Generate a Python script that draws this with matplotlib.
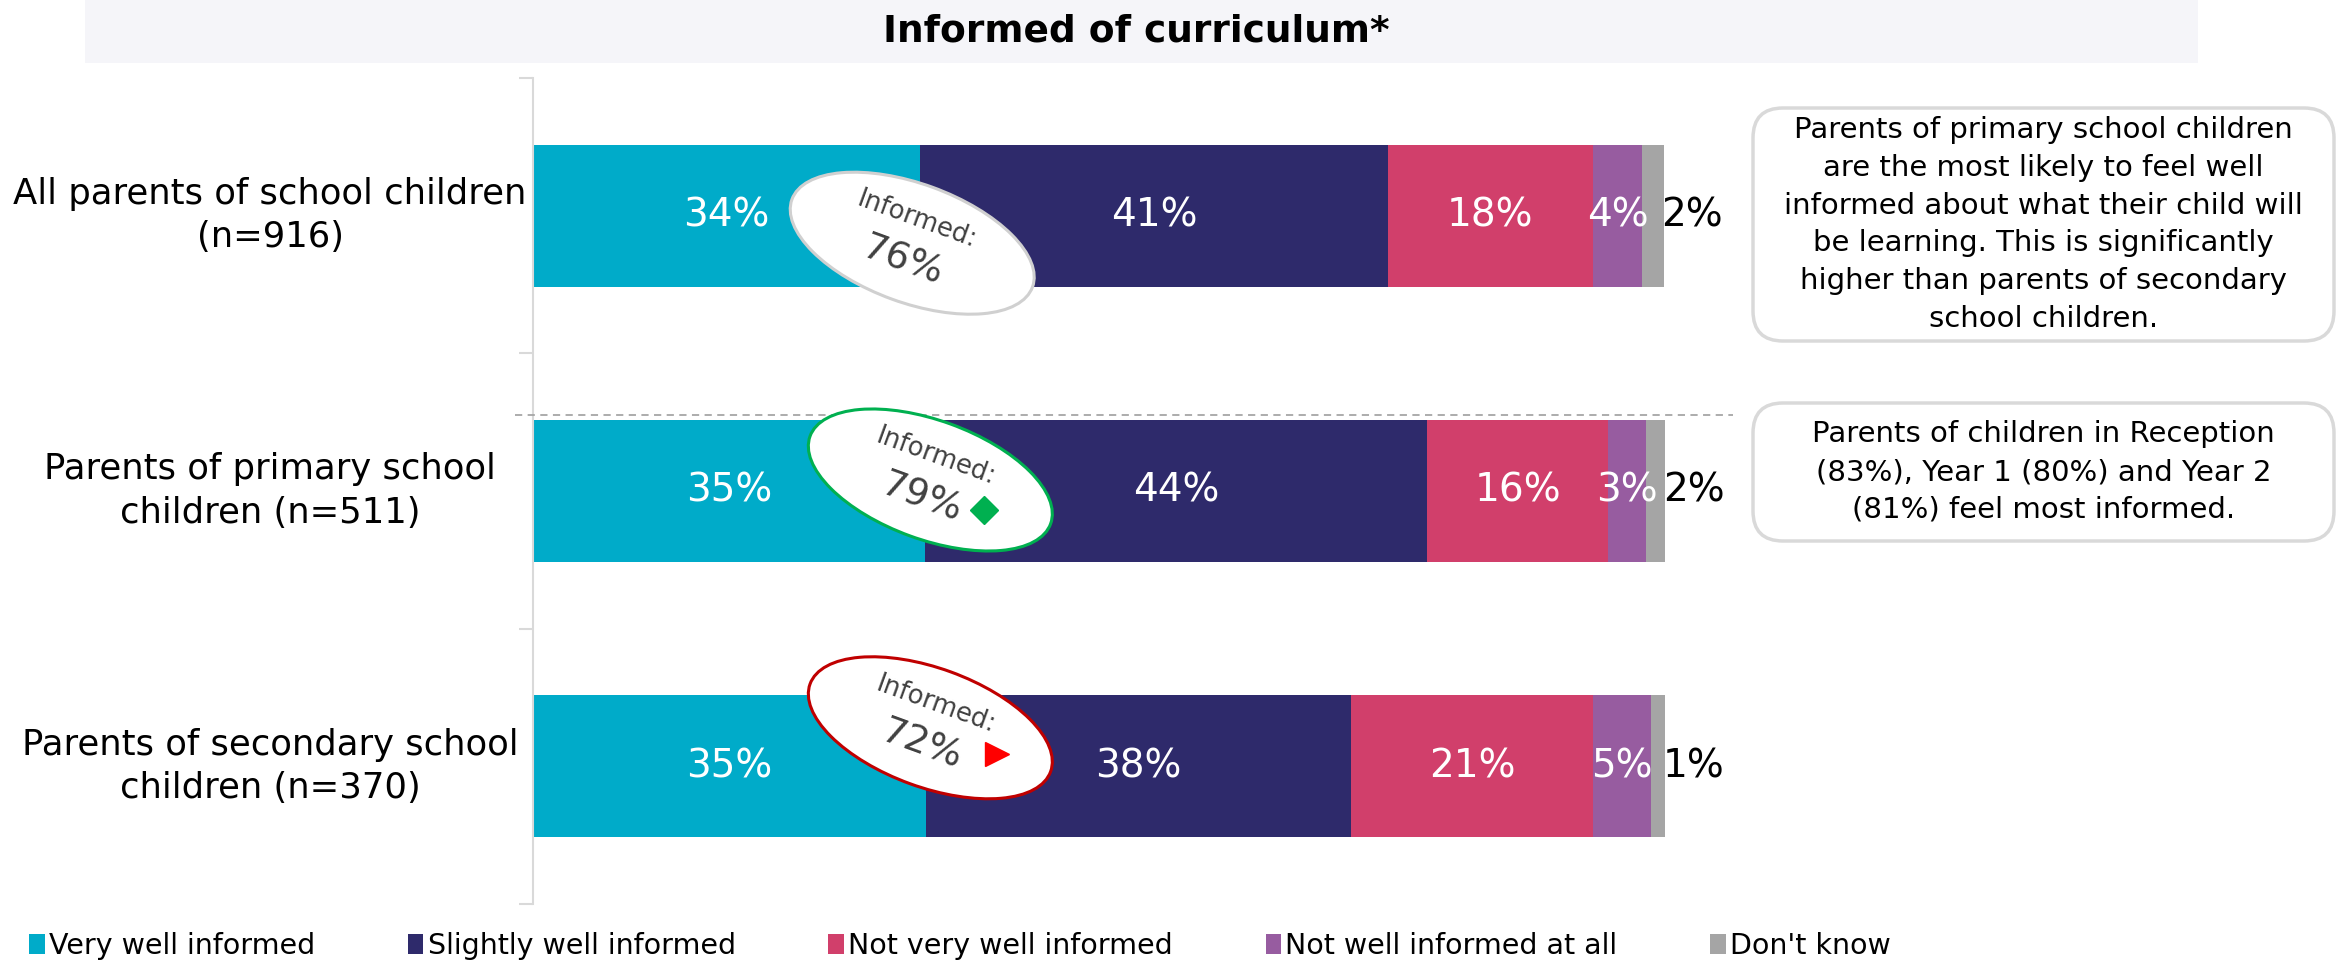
import matplotlib
matplotlib.use("Agg")
import matplotlib.pyplot as plt
from matplotlib.patches import Ellipse, FancyBboxPatch, Rectangle
from matplotlib.transforms import ScaledTranslation, blended_transform_factory

groups = ["All parents of school children\n(n=916)",
          "Parents of primary school\nchildren (n=511)",
          "Parents of secondary school\nchildren (n=370)"]
very_well = [34.2, 34.6, 34.7]
slightly = [41.3, 44.4, 37.6]
not_very = [18.1, 16.0, 21.3]
not_at_all = [4.4, 3.3, 5.2]
dont_know = [1.9, 1.8, 1.2]
informed = [76, 79, 72]

series = ["Very well informed", "Slightly well informed", "Not very well informed",
          "Not well informed at all", "Don't know"]
colors = ["#00abc9", "#2e2a6b", "#d13f6b", "#975ca0", "#a5a5a5"]

title = "Informed of curriculum*"
note1 = ("Parents of primary school children\nare the most likely to feel well\n"
         "informed about what their child will\nbe learning. This is significantly\n"
         "higher than parents of secondary\nschool children.")
note2 = "Parents of children in Reception\n(83%), Year 1 (80%) and Year 2\n(81%) feel most informed."

# oval call-outs: x centre (data), y offset from the bar, outline colour, marker
oval_x = [33.5, 35.1, 35.1]
oval_dy = [0.10, -0.04, -0.14]
oval_edge = ["#d0d0d0", "#00b050", "#c00000"]
oval_mark = [None, ("D", "#00b050", 0.54, -0.30, 14), (">", "#ff0000", 0.67, -0.26, 17)]

W, H = 2343, 966
fig = plt.figure(figsize=(W / 100, H / 100), dpi=100)
ax = fig.add_axes([533 / W, 1 - 904 / H, 1132 / W, 826 / H])
ax.set_xlim(0, 100)
ax.set_ylim(2.5, -0.5)

data = [very_well, slightly, not_very, not_at_all, dont_know]
ypos = range(len(groups))
left = [0.0] * len(groups)
for k, (vals, name, col) in enumerate(zip(data, series, colors)):
    ax.barh(ypos, vals, left=left, height=0.515, color=col, label=name)
    for i, v in enumerate(vals):
        if k < 4:
            ax.text(left[i] + v / 2, i, f"{v:.0f}%", color="white", ha="center",
                    va="center", fontsize=28)
        else:
            ax.text(left[i] + v + 2.5, i, f"{v:.0f}%", color="black", ha="center",
                    va="center", fontsize=28, clip_on=False)
    left = [l + v for l, v in zip(left, vals)]

# category labels
tr = blended_transform_factory(fig.transFigure, ax.transData)
for i, g in enumerate(groups):
    ax.text(270 / W, i, g, transform=tr, ha="center", va="center", fontsize=25.5,
            multialignment="center", linespacing=1.34)

# dashed separator
ax.plot([-1.6, 106], [0.724, 0.724], ls=(0, (4, 3)), color="#a6a6a6", lw=1.3,
        clip_on=False, zorder=3)

# ovals
for i in range(len(groups)):
    trans = fig.dpi_scale_trans + ScaledTranslation(oval_x[i], i + oval_dy[i], ax.transData)
    ax.add_patch(Ellipse((0, 0), 2.56, 1.19, angle=-20, transform=trans, facecolor="white",
                         edgecolor=oval_edge[i], lw=2.2, zorder=5, clip_on=False))
    ax.text(0.05, 0.23, "Informed:", transform=trans, rotation=-20, rotation_mode="anchor",
            ha="center", va="center", fontsize=18.5, color="#404040", zorder=6)
    ax.text(-0.09, -0.18, f"{informed[i]}%", transform=trans, rotation=-20,
            rotation_mode="anchor", ha="center", va="center", fontsize=27,
            color="#404040", zorder=6)
    if oval_mark[i]:
        m, c, dx, dy, ms = oval_mark[i]
        ax.plot([dx], [dy], marker=m, ms=ms, color=c, transform=trans, zorder=7,
                clip_on=False, ls="none")

ax.set_xlim(0, 100)
ax.set_ylim(2.5, -0.5)
for s in ["top", "right", "bottom"]:
    ax.spines[s].set_visible(False)
ax.spines["left"].set_color("#d9d9d9")
ax.spines["left"].set_linewidth(1.5)
ax.set_xticks([])
ax.set_yticks([-0.5, 0.5, 1.5, 2.5])
ax.set_yticklabels([])
ax.tick_params(axis="y", length=10, color="#d9d9d9", width=1.5)

# title band
fig.patches.append(Rectangle((85 / W, 1 - 63 / H), (2198 - 85) / W, 63 / H,
                             transform=fig.transFigure, facecolor="#f5f5f9",
                             edgecolor="none", zorder=0))
fig.text(1136 / W, 1 - 32 / H, title, ha="center", va="center", fontsize=27,
         fontweight="bold")

# note boxes
for (y0, h, txt) in [(6.25, 2.33, note1), (4.25, 1.38, note2)]:
    fig.patches.append(FancyBboxPatch((17.53, y0), 5.81, h,
                                      boxstyle="round,pad=0,rounding_size=0.3",
                                      transform=fig.dpi_scale_trans, facecolor="white",
                                      edgecolor="#d9d9d9", lw=2.5))
    fig.text(17.53 + 5.81 / 2, y0 + h / 2, txt, transform=fig.dpi_scale_trans,
             ha="center", va="center", fontsize=21, multialignment="center",
             linespacing=1.45)

fig.legend(loc="center left", bbox_to_anchor=(29 / W, 1 - 946 / H), ncol=5, frameon=False,
           fontsize=20.5, handlelength=0.55, handleheight=0.75, handletextpad=0.15,
           columnspacing=3.25, borderaxespad=0, borderpad=0)

fig.savefig("out.png", dpi=100)
